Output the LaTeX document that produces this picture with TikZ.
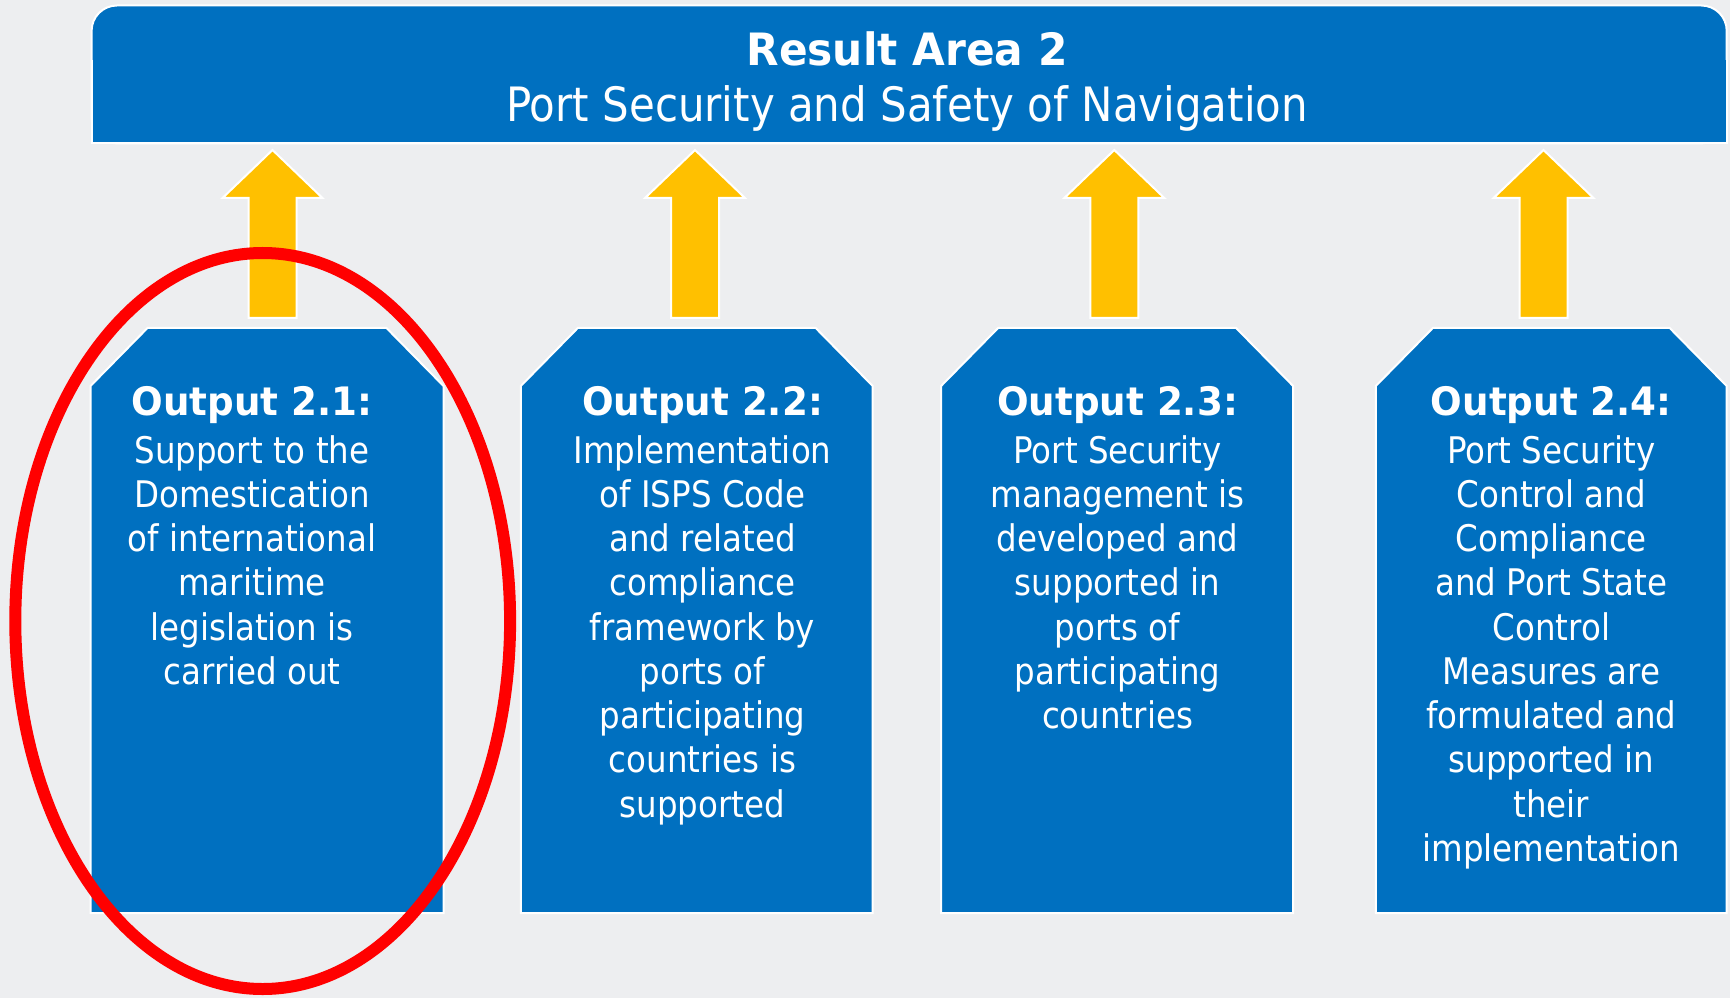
\documentclass[tikz,border=0pt]{standalone}
\usepackage{fontspec}
\newfontfamily\bodyfont{DejaVu Sans}[FakeStretch=0.886]
\newfontfamily\headfont{DejaVu Sans}[FakeStretch=0.95]
\definecolor{rablue}{HTML}{0070C0}
\definecolor{rayellow}{HTML}{FFC000}
\definecolor{bgcol}{RGB}{237,238,240}
\definecolor{rared}{HTML}{FF0000}
\begin{document}
\begin{tikzpicture}[x=0.75pt,y=-0.75pt,
  bluefill/.style={fill=rablue, draw=white, line width=1.5pt, line join=miter},
  arrowfill/.style={fill=rayellow, draw=white, line width=1.5pt, line join=miter},
  boxtext/.style={text=white, align=center, anchor=north, inner sep=0pt,
    font=\bodyfont\fontsize{27.5}{33.2}\selectfont},
  headtext/.style={font=\headfont\bfseries\fontsize{29.4}{33.2}\selectfont}]
\fill[bgcol] (0,0) rectangle (1730,998);
\useasboundingbox (0,0) rectangle (1730,998);

% banner
\path[bluefill, rounded corners=19pt] (91.6,5.5) rectangle (1726.7,143.4);
\fill[rablue] (91.6,60) rectangle (1726.7,143.4);
\draw[white, line width=1.5pt] (91.6,60) |- (1726.7,143.4) -- (1726.7,60);
\node[text=white, align=center, anchor=north, inner sep=0pt,
  font=\bodyfont\fontsize{35.5}{42.5}\selectfont] (title) at (907,31)
  {{\headfont\bfseries\fontsize{33.4}{42.5}\selectfont Result Area 2}\\
   Port Security and Safety of Navigation};

% arrows
\foreach \cx/\nm in {272.5/a1,695/a2,1114.3/a3,1543.5/a4}{
  \path[arrowfill] (\cx-24,318) -- (\cx-24,198) -- (\cx-50,198) -- (\cx,150)
    -- (\cx+50,198) -- (\cx+24,198) -- (\cx+24,318) -- cycle;
}

% boxes
\foreach \xa/\xb in {90.5/443.5,520.8/872.7,941.1/1293.1,1375.8/1726.7}{
  \path[bluefill] (\xa,913) -- (\xa,386) -- (\xa+57,328) -- (\xb-57,328)
    -- (\xb,386) -- (\xb,913) -- cycle;
}

\node[boxtext] (o1) at (252,386) {{\headfont\bfseries\fontsize{29.4}{33.2}\selectfont Output 2.1:}\\[2.6pt]
  Support to the\\ Domestication\\ of international\\ maritime\\ legislation is\\ carried out};
\node[boxtext] (o2) at (702.5,386) {{\headfont\bfseries\fontsize{29.4}{33.2}\selectfont Output 2.2:}\\[2.6pt]
  Implementation\\ of ISPS Code\\ and related\\ compliance\\ framework by\\ ports of\\ participating\\ countries is\\ supported};
\node[boxtext] (o3) at (1117.5,386) {{\headfont\bfseries\fontsize{29.4}{33.2}\selectfont Output 2.3:}\\[2.6pt]
  Port Security\\ management is\\ developed and\\ supported in\\ ports of\\ participating\\ countries};
\node[boxtext] (o4) at (1551.3,386) {{\headfont\bfseries\fontsize{29.4}{33.2}\selectfont Output 2.4:}\\[2.6pt]
  Port Security\\ Control and\\ Compliance\\ and Port State\\ Control\\ Measures are\\ formulated and\\ supported in\\ their\\ implementation};

% red ellipse
\draw[rared, line width=9pt] (262.7,621) ellipse [x radius=247.4, y radius=368];
\end{tikzpicture}
\end{document}
